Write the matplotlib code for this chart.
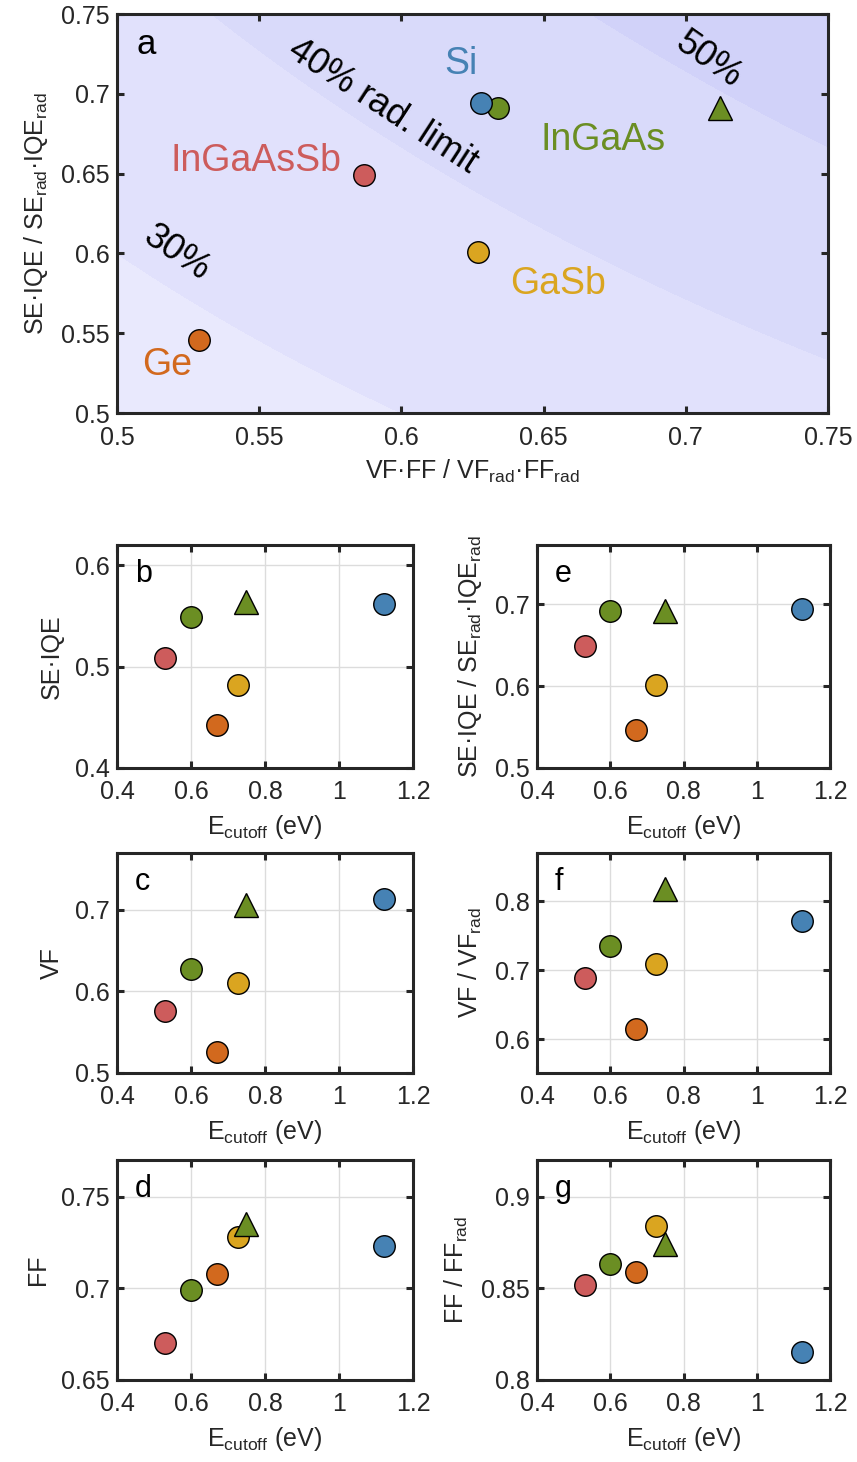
import numpy as np
import matplotlib
matplotlib.use('Agg')
import matplotlib.pyplot as plt
from matplotlib.ticker import FuncFormatter

plt.rcParams['font.family'] = ['Liberation Sans', 'DejaVu Sans']
plt.rcParams['mathtext.fontset'] = 'custom'
plt.rcParams['mathtext.rm'] = 'Liberation Sans'
plt.rcParams['mathtext.it'] = 'Liberation Sans:italic'
plt.rcParams['mathtext.bf'] = 'Liberation Sans:bold'

# data, one entry per device (drawing order)
names = ['InGaAsSb', 'InGaAs', 'Ge', 'GaSb', 'InGaAs', 'Si']
markers = ['o', 'o', 'o', 'o', '^', 'o']
colors = ['#CD5C5C', '#6B8E23', '#D2691E', '#DAA520', '#6B8E23', '#4682B4']
e_cutoff = [0.53, 0.60, 0.67, 0.726, 0.75, 1.123]
se_iqe = [0.509, 0.549, 0.442, 0.482, 0.564, 0.562]
se_iqe_rel = [0.649, 0.691, 0.546, 0.601, 0.691, 0.694]
vf = [0.576, 0.628, 0.526, 0.611, 0.706, 0.714]
vf_rel = [0.689, 0.735, 0.615, 0.709, 0.818, 0.771]
ff = [0.670, 0.699, 0.708, 0.728, 0.735, 0.723]
ff_rel = [0.852, 0.863, 0.859, 0.884, 0.874, 0.815]
vfff_rel = [0.587, 0.634, 0.529, 0.627, 0.712, 0.628]

# efficiency bands in panel a (fraction of radiative limit)
band_levels = [0.0, 0.3, 0.4, 0.5, 1.0]
band_colors = ['#e9e9fd', '#e1e1fc', '#d9dafa', '#d1d2f9']

dark = '#262626'
fs = 18
fig = plt.figure(figsize=(8.57, 14.62), dpi=100)


def style(ax, grid=True):
    for s in ax.spines.values():
        s.set_linewidth(2.2)
        s.set_color(dark)
    ax.tick_params(direction='in', length=5, width=2.2, colors=dark,
                   labelsize=fs, top=True, right=True)
    ax.tick_params(axis='x', pad=9)
    ax.tick_params(axis='y', pad=5)
    ax.xaxis.set_major_formatter(FuncFormatter(lambda v, p: '%g' % round(v, 3)))
    ax.yaxis.set_major_formatter(FuncFormatter(lambda v, p: '%g' % round(v, 3)))
    if grid:
        ax.grid(True, color='#dcdcdc', lw=1.0)
        ax.set_axisbelow(True)


def points(ax, xs, ys):
    for x, y, m, c in zip(xs, ys, markers, colors):
        ax.plot(x, y, marker=m, ms=17 if m == '^' else 15.5, mfc=c,
                mec='black', mew=1.0, ls='none', zorder=3)


# panel a
ax = fig.add_axes([0.1365, 0.7175, 0.8296, 0.2729])
gx = np.linspace(0.5, 0.75, 300)
X, Y = np.meshgrid(gx, gx)
ax.contourf(X, Y, X * Y, levels=band_levels, colors=band_colors, zorder=0)
points(ax, vfff_rel, se_iqe_rel)
ax.set_xlim(0.5, 0.75)
ax.set_ylim(0.5, 0.75)
ax.set_xticks(np.arange(0.5, 0.751, 0.05))
ax.set_yticks(np.arange(0.5, 0.751, 0.05))
style(ax, grid=False)
ax.set_xlabel(r'VF·FF / VF$_{\mathrm{rad}}$·FF$_{\mathrm{rad}}$', fontsize=fs, color=dark, labelpad=6)
ax.set_ylabel(r'SE·IQE / SE$_{\mathrm{rad}}$·IQE$_{\mathrm{rad}}$', fontsize=fs, color=dark, labelpad=8)
ax.text(0.507, 0.731, 'a', fontsize=25, va='center', ha='left')
lab = dict(fontsize=26, ha='center', va='center', rotation_mode='anchor')
ax.text(0.5935, 0.692, '40% rad. limit', rotation=-33, **lab)
ax.text(0.521, 0.600, '30%', rotation=-34, **lab)
ax.text(0.708, 0.721, '50%', rotation=-35, **lab)
for t, x, y, c in [('Si', 0.621, 0.719, '#4682B4'), ('InGaAs', 0.671, 0.671, '#6B8E23'),
                   ('InGaAsSb', 0.549, 0.658, '#CD5C5C'), ('GaSb', 0.655, 0.581, '#DAA520'),
                   ('Ge', 0.5176, 0.530, '#D2691E')]:
    ax.text(x, y, t, color=c, fontsize=27, ha='center', va='center')

# small panels
lefts = [0.1365, 0.6266]
widths = [0.3454, 0.3419]
bottoms = [0.4747, 0.2661, 0.0561]
heights = [0.1525, 0.1505, 0.1505]
panels = [
    (0, 0, 'b', se_iqe, 'SE·IQE', (0.4, 0.62), [0.4, 0.5, 0.6]),
    (0, 1, 'c', vf, 'VF', (0.5, 0.77), [0.5, 0.6, 0.7]),
    (0, 2, 'd', ff, 'FF', (0.65, 0.77), [0.65, 0.7, 0.75]),
    (1, 0, 'e', se_iqe_rel, r'SE·IQE / SE$_{\mathrm{rad}}$·IQE$_{\mathrm{rad}}$', (0.5, 0.772), [0.5, 0.6, 0.7]),
    (1, 1, 'f', vf_rel, r'VF / VF$_{\mathrm{rad}}$', (0.551, 0.87), [0.6, 0.7, 0.8]),
    (1, 2, 'g', ff_rel, r'FF / FF$_{\mathrm{rad}}$', (0.8, 0.92), [0.8, 0.85, 0.9]),
]
for col, row, letter, ys, ylab, ylim, yt in panels:
    ax = fig.add_axes([lefts[col], bottoms[row], widths[col], heights[row]])
    points(ax, e_cutoff, ys)
    ax.set_xlim(0.4, 1.2)
    ax.set_xticks([0.4, 0.6, 0.8, 1.0, 1.2])
    ax.set_ylim(*ylim)
    ax.set_yticks(yt)
    style(ax)
    ax.set_xlabel(r'E$_{\mathrm{cutoff}}$ (eV)', fontsize=fs, color=dark, labelpad=6)
    ax.set_ylabel(ylab, fontsize=fs, color=dark, labelpad=8)
    ax.text(0.06, 0.87, letter, transform=ax.transAxes, fontsize=22, ha='left', va='center')

fig.savefig('out.png', dpi=100)
